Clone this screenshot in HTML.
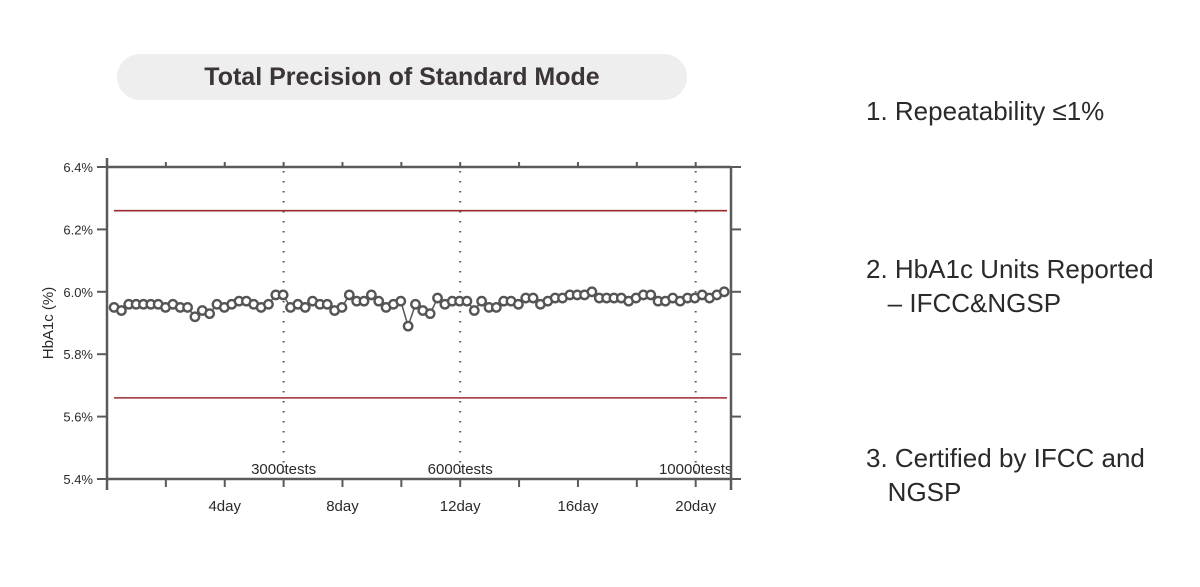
<!DOCTYPE html>
<html><head><meta charset="utf-8"><style>
body{margin:0;width:1200px;height:587px;background:#fff;font-family:"Liberation Sans",sans-serif;overflow:hidden;position:relative}
.pill{position:absolute;left:117px;top:54px;width:570px;height:46px;border-radius:23px;background:#eeeeee;color:#3b3535;font-weight:bold;font-size:25px;line-height:46px;text-align:center}
.note{position:absolute;left:866px;color:#2a2a2a;font-size:26px;line-height:34px}
</style></head><body>
<div class="pill">Total Precision of Standard Mode</div>
<div class="note" style="top:94px">1. Repeatability ≤1%</div>
<div class="note" style="top:252px">2. HbA1c Units Reported<br>&nbsp;&nbsp;&nbsp;– IFCC&amp;NGSP</div>
<div class="note" style="top:441px">3. Certified by IFCC and<br>&nbsp;&nbsp;&nbsp;NGSP</div>
<svg id="chart" width="1200" height="587" style="position:absolute;left:0;top:0"></svg>
<script>
const values=[5.95,5.94,5.96,5.96,5.96,5.96,5.96,5.95,5.96,5.95,5.95,5.92,5.94,5.93,5.96,5.95,5.96,5.97,5.97,5.96,5.95,5.96,5.99,5.99,5.95,5.96,5.95,5.97,5.96,5.96,5.94,5.95,5.99,5.97,5.97,5.99,5.97,5.95,5.96,5.97,5.89,5.96,5.94,5.93,5.98,5.96,5.97,5.97,5.97,5.94,5.97,5.95,5.95,5.97,5.97,5.96,5.98,5.98,5.96,5.97,5.98,5.98,5.99,5.99,5.99,6.00,5.98,5.98,5.98,5.98,5.97,5.98,5.99,5.99,5.97,5.97,5.98,5.97,5.98,5.98,5.99,5.98,5.99,6.00];
const yTicks=[5.4,5.6,5.8,6.0,6.2,6.4];
const xLabels=[4,8,12,16,20];
const limits=[6.26,5.66];
const markerDays=[6,12,20];
const markerLabels=["3000tests","6000tests","10000tests"];
const dayStart=0.24, dayEnd=20.97, dayMax=21.2;
const X0=107,X1=731,Y0=479,Y1=167;
const xs=d=>X0+d*(X1-X0)/dayMax;
const ys=v=>Y0-(v-5.4)*(Y0-Y1)/1.0;
const svg=document.getElementById('chart');const NS='http://www.w3.org/2000/svg';
function mk(t,a,p){const e=document.createElementNS(NS,t);for(const k in a)e.setAttribute(k,a[k]);(p||svg).appendChild(e);return e;}
const ax='#5a5a5a';
markerDays.forEach((d,i)=>{
 const l=mk('line',{x1:xs(d),x2:xs(d),y1:Y1+4,y2:Y0,stroke:'#555','stroke-width':2,'stroke-dasharray':'1.5 8.5'});
 
 
 const t=mk('text',{x:xs(d),y:Y0-5,'text-anchor':'middle','font-size':15,fill:'#2a2a2a'});
 t.textContent=markerLabels[i];
 
 
});
limits.forEach((v,i)=>{
 const l=mk('line',{x1:114,x2:727,y1:ys(v),y2:ys(v),stroke:'#9b2a2e','stroke-width':1.6});
 
 
});
mk('line',{x1:X0,x2:X0,y1:158,y2:490,stroke:ax,'stroke-width':2.5});
mk('line',{x1:X1,x2:X1,y1:Y1,y2:490,stroke:ax,'stroke-width':2.5});
mk('line',{x1:X0,x2:X1,y1:Y1,y2:Y1,stroke:ax,'stroke-width':2.5});
mk('line',{x1:X0,x2:X1,y1:Y0,y2:Y0,stroke:ax,'stroke-width':2.5});
for(let d=2;d<=20;d+=2){
 mk('line',{x1:xs(d),x2:xs(d),y1:Y0,y2:Y0+8,stroke:ax,'stroke-width':2});
 mk('line',{x1:xs(d),x2:xs(d),y1:Y1,y2:Y1-5,stroke:ax,'stroke-width':2});
}
yTicks.forEach(v=>{
 mk('line',{x1:X0-10,x2:X0,y1:ys(v),y2:ys(v),stroke:ax,'stroke-width':2});
 mk('line',{x1:X1,x2:X1+10,y1:ys(v),y2:ys(v),stroke:ax,'stroke-width':2});
 const t=mk('text',{x:X0-14,y:ys(v)+5,'text-anchor':'end','font-size':13,fill:'#2a2a2a'});
 t.textContent=v.toFixed(1)+'%';
 
 
});
xLabels.forEach(d=>{
 const t=mk('text',{x:xs(d),y:511,'text-anchor':'middle','font-size':15,fill:'#2a2a2a'});
 t.textContent=d+'day';
 
 
});
const yt=mk('text',{x:0,y:0,'text-anchor':'middle','font-size':15,fill:'#2a2a2a',transform:'translate(53,323) rotate(-90)'});
yt.textContent='HbA1c (%)';


const n=values.length;
const dx=i=>xs(dayStart+i*(dayEnd-dayStart)/(n-1));
const pl=mk('polyline',{points:values.map((v,i)=>dx(i)+','+ys(v)).join(' '),fill:'none',stroke:'#555','stroke-width':1.5});


values.forEach((v,i)=>{
 const c=mk('circle',{cx:dx(i),cy:ys(v),r:4.2,fill:'#fff',stroke:'#555','stroke-width':2.4});
 
 
});
</script>
</body></html>
